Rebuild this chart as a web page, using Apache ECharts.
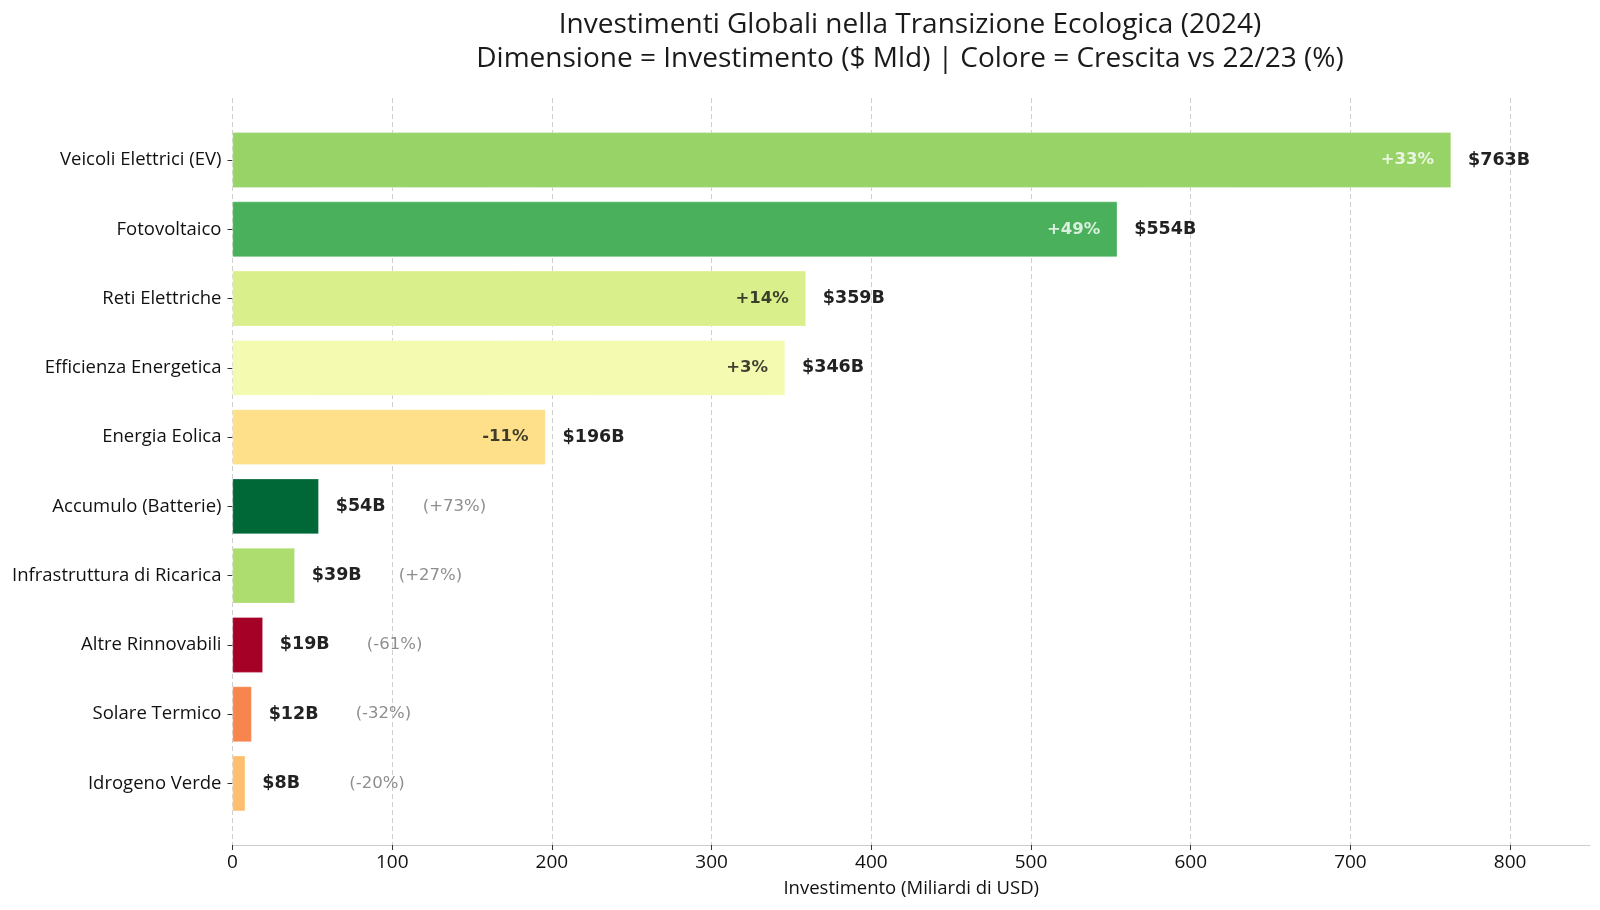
<!DOCTYPE html>
<html>
<head>
<meta charset="utf-8">
<script src="https://cdn.jsdelivr.net/npm/echarts@6/dist/echarts.min.js"></script>
<style>
html,body{margin:0;padding:0;background:#fff;}
#chart{width:1600px;height:910px;}
</style>
</head>
<body>
<div id="chart"></div>
<script>
const categories = ["Veicoli Elettrici (EV)","Fotovoltaico","Reti Elettriche","Efficienza Energetica","Energia Eolica","Accumulo (Batterie)","Infrastruttura di Ricarica","Altre Rinnovabili","Solare Termico","Idrogeno Verde"];
const investments = [763, 554, 359, 346, 196, 54, 39, 19, 12, 8];
const growth = [33, 49, 14, 3, -11, 73, 27, -61, -32, -20];
const barColors = ["#98d368","#4bb05c","#d9ef8b","#f4fab0","#fee08b","#006837","#addc6f","#a50026","#f7864e","#fdbf6f"];
const xTicks = [0,100,200,300,400,500,600,700,800];

const X_MAX = 850;
const INSIDE_MIN = 100;
const fmtPct = g => (g > 0 ? "+" : "") + g + "%";

const PLOT_L = 232.5, PLOT_R = 1590, W = 1600;
const tickMax = xTicks[xTicks.length-1];
const tickRight = W - (PLOT_L + (PLOT_R - PLOT_L) * tickMax / X_MAX);

const chart = echarts.init(document.getElementById('chart'), null, {renderer:'canvas'});

const barData = investments.map((v,i)=>({value:v, itemStyle:{color:barColors[i]}}));
const insideData = [];
const outsideData = [];
investments.forEach((v,i)=>{
  if (v >= INSIDE_MIN) insideData.push({value:[v, categories[i]], g:growth[i]});
  else outsideData.push({value:[v, categories[i]], g:growth[i]});
});

const option = {
  backgroundColor:'#fff',
  animation:false,
  title:{
    text:'Investimenti Globali nella Transizione Ecologica (2024)\nDimensione = Investimento ($ Mld) | Colore = Crescita vs 22/23 (%)',
    left:905, top:3, textAlign:'center',
    textStyle:{fontFamily:'Open Sans', fontSize:28, fontWeight:'normal', color:'#1a1a1a', lineHeight:34}
  },
  grid:[
    {left:PLOT_L, right:tickRight, top:98, bottom:65},
    {left:PLOT_L, right:W-PLOT_R, top:125.4, bottom:91.9},
    {left:PLOT_L, right:W-PLOT_R, top:98, bottom:65}
  ],
  xAxis:[
    {gridIndex:0, type:'value', min:0, max:tickMax, interval:100,
     axisLine:{show:false},
     axisTick:{show:true, length:5, lineStyle:{color:'#333'}},
     axisLabel:{fontFamily:'Open Sans', fontSize:19, color:'#111', margin:8,
       formatter:v=> String(v)},
     splitLine:{show:true, lineStyle:{color:'#cfcfcf', type:[5,3], width:1}}
    },
    {gridIndex:1, type:'value', min:0, max:X_MAX, show:false},
    {gridIndex:2, type:'value', min:0, max:X_MAX,
     axisLine:{show:true, lineStyle:{color:'#cccccc', width:1}},
     axisTick:{show:false}, axisLabel:{show:false}, splitLine:{show:false},
     name:'Investimento (Miliardi di USD)', nameLocation:'middle', nameGap:34,
     nameTextStyle:{fontFamily:'Open Sans', fontSize:18.5, color:'#111'}
    }
  ],
  yAxis:[
    {gridIndex:0, type:'value', min:0, max:1, show:false},
    {gridIndex:1, type:'category', data:categories, inverse:true,
     axisLine:{show:false},
     axisTick:{show:true, alignWithLabel:true, length:5, lineStyle:{color:'#333'}},
     axisLabel:{fontFamily:'Open Sans', fontSize:18.5, color:'#111', margin:11},
     splitLine:{show:false}
    },
    {gridIndex:2, type:'value', min:0, max:1, show:false}
  ],
  series:[
    {type:'bar', xAxisIndex:1, yAxisIndex:1, data:barData, barWidth:'80%',
     itemStyle:{borderColor:'rgba(255,255,255,0.6)', borderWidth:0.5},
     label:{show:true, position:'right', distance:17,
       formatter:p=>'$'+p.value+'B',
       fontFamily:'DejaVu Sans', fontWeight:'bold', fontSize:17.5, color:'#222'}
    },
    {type:'scatter', xAxisIndex:1, yAxisIndex:1, symbolSize:0, silent:true,
     data:insideData.map(d=>({value:d.value, label:{color: d.g>30 ? '#ffffff' : '#111111'}, g:d.g})),
     label:{show:true, position:'inside', align:'right', offset:[-17,0],
       formatter:p=>fmtPct(p.data.g),
       fontFamily:'DejaVu Sans', fontWeight:'bold', fontSize:16.5}
    },
    {type:'scatter', xAxisIndex:1, yAxisIndex:1, symbolSize:0, silent:true,
     data:outsideData.map(d=>({value:d.value, g:d.g})),
     label:{show:true, position:'inside', align:'left', offset:[104,0],
       formatter:p=>'('+fmtPct(p.data.g)+')',
       fontFamily:'DejaVu Sans', fontSize:16.5, color:'#707070'}
    }
  ]
};
chart.setOption(option);
</script>
</body>
</html>
